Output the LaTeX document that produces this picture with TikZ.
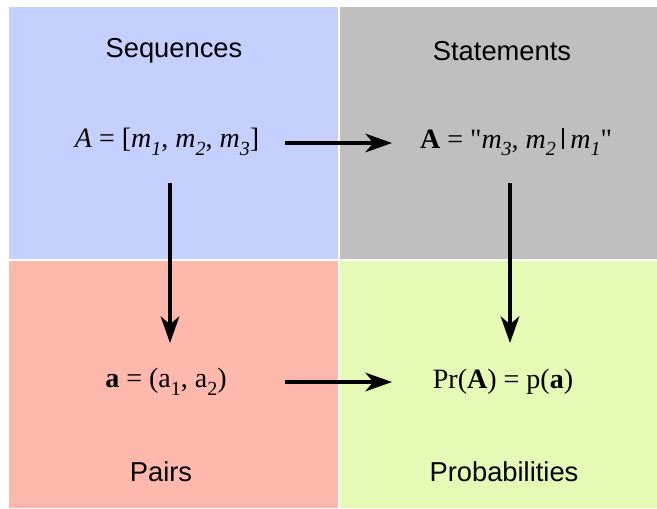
\documentclass[tikz,border=0pt]{standalone}
\usepackage{fontspec}
\setmainfont{Liberation Serif}
\newfontfamily\headfont{Liberation Sans}
\usepackage{tikz}
\usetikzlibrary{arrows.meta,positioning,calc}
\definecolor{seqBlue}{RGB}{197,208,255}
\definecolor{stmGray}{RGB}{191,191,191}
\definecolor{pairRed}{RGB}{255,184,172}
\definecolor{probGreen}{RGB}{229,250,180}
\newcommand{\ix}[1]{\textit{#1}}
\newcommand{\lo}[1]{\raisebox{-0.6ex}{\fontsize{15}{16}\selectfont #1}}
\newcommand{\eq}{\ =\ }

\begin{document}
\begin{tikzpicture}[
        x=0.75pt, y=-0.75pt,
        title/.style={font=\headfont\fontsize{20.5}{24}\selectfont, inner sep=0pt},
        formula/.style={font=\fontsize{21}{24}\selectfont, inner sep=0pt},
        link/.style={-{Stealth[length=20pt,width=14pt,inset=6pt]}, line width=2.6pt},
        >=Stealth
      ]
        \useasboundingbox[fill=white] (0,0) rectangle (657,508);
        % the four panels
        \fill[seqBlue] (9,7) rectangle (338,259);
        \fill[stmGray] (340,7) rectangle (657,259);
        \fill[pairRed] (9,261) rectangle (338,508);
        \fill[probGreen] (340,261) rectangle (657,508);
        % panel titles
        \node[title] (seqt) at (174,51) {Sequences};
        \node[title] (stmt) at (502,51) {Statements};
        \node[title] (pairt) at (161,472) {Pairs};
        \node[title] (probt) at (504,472) {Probabilities};
        % formulas
        \node[formula] (seq) at (167,142) {\ix{A}\eq[\ix{m}\lo{\ix{1}}, \ix{m}\lo{\ix{2}}, \ix{m}\lo{\ix{3}}]};
        \node[formula] (stm) at (516,142) {\textbf{A}\eq\textquotedbl\ix{m}\lo{\ix{3}}, \ix{m}\lo{\ix{2}}\hspace{0.22em}\rule[-1pt]{1.5pt}{16pt}\hspace{0.22em}\ix{m}\lo{\ix{1}}\textquotedbl};
        \node[formula] (pair) at (166,382) {\textbf{a}\eq(a\lo{1}, a\lo{2})};
        \node[formula] (prob) at (503,382) {Pr(\textbf{A})\eq p(\textbf{a})};
        % maps
        \draw[link] ($(seq.center)+(118,1)$) -- ($(stm.center)+(-124,1)$);
        \draw[link] ($(pair.center)+(119,0)$) -- ($(prob.center)+(-111,0)$);
        \draw[link] ($(seq.center)+(3,41)$) -- ($(pair.center)+(4,-39)$);
        \draw[link] ($(stm.center)+(-6,41)$) -- ($(prob.center)+(7,-39)$);
      \end{tikzpicture}
\end{document}
